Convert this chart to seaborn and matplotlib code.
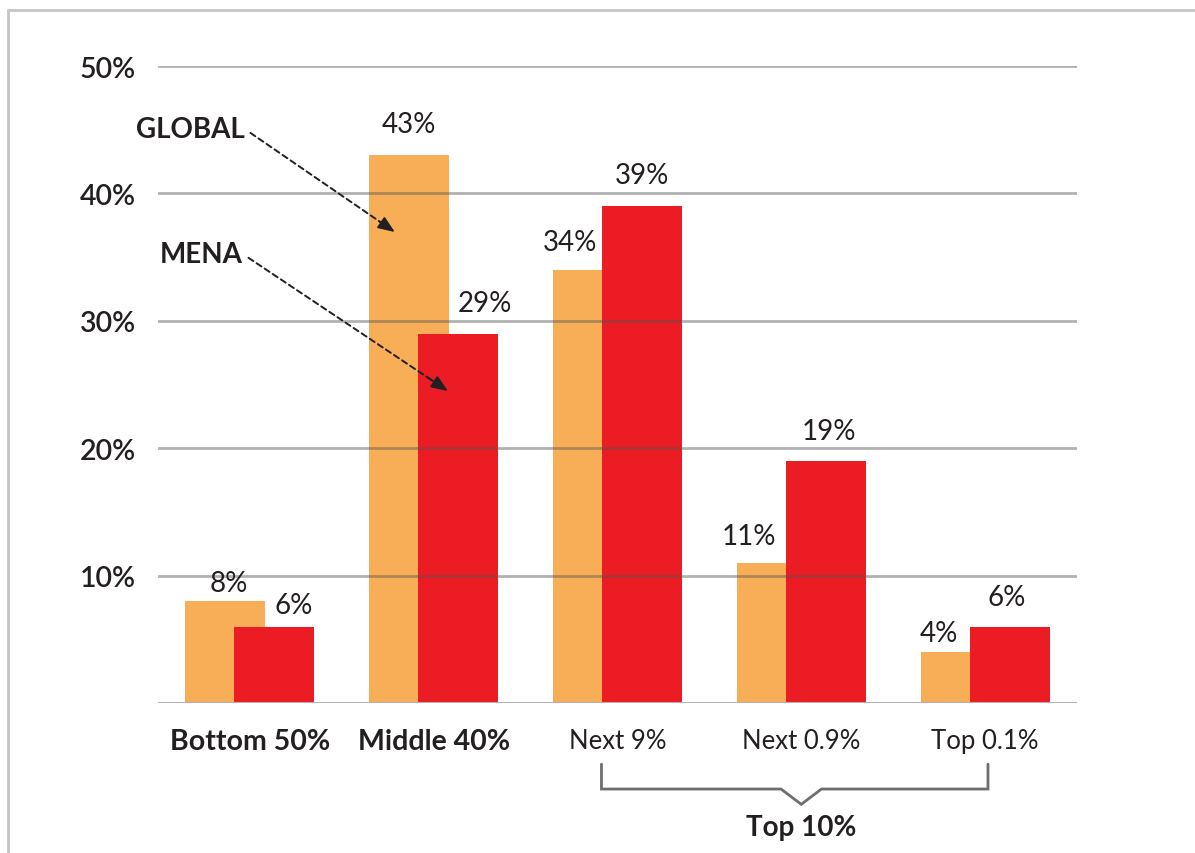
import pandas as pd
import matplotlib.pyplot as plt
import seaborn as sns
from matplotlib.lines import Line2D

# data
groups = ['Bottom 50%', 'Middle 40%', 'Next 9%', 'Next 0.9%', 'Top 0.1%']
global_share = [8, 43, 34, 11, 4]
mena_share = [6, 29, 39, 19, 6]
series = ['GLOBAL', 'MENA']
yticks = [10, 20, 30, 40, 50]
ytick_labels = ['10%', '20%', '30%', '40%', '50%']

df = pd.DataFrame({
    'group': groups * 2,
    'share': global_share + mena_share,
    'series': ['GLOBAL'] * len(groups) + ['MENA'] * len(groups),
})

# label nudges in pixels (dx, gap above bar)
label_dx = [[3, 0, -23, -28, -22], [19, 27, 0, 3, -3]]
label_dy = [[10, 23, 20, 19, 11], [14, 23, 23, 22, 22]]

sns.set_style('white')
plt.rcParams['font.family'] = ['Lato', 'DejaVu Sans']
ink = '#231f20'
grey = '#555555'

fig = plt.figure(figsize=(11.95, 8.54), dpi=100)
ax = fig.add_axes([0.1322, 0.1756, 0.769, 0.7459])

sns.barplot(data=df, x='group', y='share', hue='series', order=groups, hue_order=series,
            palette=['#f7ae57', '#ec1c24'], width=0.533, dodge=True, saturation=1,
            legend=False, linewidth=0, ax=ax, zorder=2)

# overlapping bars: widen each bar around its own centre
bar_w = 0.4355
for cont in ax.containers:
    for p in cont:
        c = p.get_x() + p.get_width() / 2
        p.set_width(bar_w)
        p.set_x(c - bar_w / 2)

# value labels
for i, cont in enumerate(ax.containers):
    for j, p in enumerate(cont):
        h = p.get_height()
        ax.annotate(f'{h:.0f}%', xy=(p.get_x() + p.get_width() / 2, h),
                    xytext=(label_dx[i][j], label_dy[i][j]), textcoords='offset pixels',
                    ha='center', va='baseline', fontsize=20, color=ink, zorder=5)

# grid lines drawn over the bars, semi transparent
for t in yticks:
    ax.axhline(t, color=grey, alpha=0.45, lw=2, zorder=3)
ax.axhline(0, color='#b3b3b3', lw=2.2, zorder=3)

ax.set_xlim(-0.5, 4.5)
ax.set_ylim(0, 50)
ax.set_yticks(yticks, ytick_labels)
ax.set_xticks(range(len(groups)), groups)
ax.set_xlabel('')
ax.set_ylabel('')
ax.tick_params(axis='y', length=0, pad=16, labelsize=20.5, labelcolor=ink)
ax.tick_params(axis='x', length=0, pad=18, labelcolor=ink)
for lbl in ax.get_yticklabels():
    lbl.set_fontweight('semibold')
for k, lbl in enumerate(ax.get_xticklabels()):
    if k < 2:
        lbl.set_fontweight('bold')
        lbl.set_fontsize(20.5)
    else:
        lbl.set_fontsize(18.5)
sns.despine(ax=ax, left=True, bottom=True)

# series call-outs: dashed line from the word, solid head at the bar
callouts = [('GLOBAL', (-0.027, 45.05), (0.789, 36.97)),
            ('MENA', (-0.038, 35.24), (1.078, 24.49))]
for name, txt_xy, tip_xy in callouts:
    ax.annotate(name, xy=tip_xy, xytext=txt_xy, ha='right', va='center',
                fontsize=20, fontweight='bold', color=ink, zorder=6,
                arrowprops=dict(arrowstyle='-', linestyle=(0, (3, 2)), color=ink, lw=1.4,
                                relpos=(1, 0.5), shrinkA=2, shrinkB=6))
    back = (tip_xy[0] - 0.1 * (tip_xy[0] - txt_xy[0]), tip_xy[1] - 0.1 * (tip_xy[1] - txt_xy[1]))
    ax.annotate('', xy=tip_xy, xytext=back, zorder=6,
                arrowprops=dict(arrowstyle='-|>,head_length=1.0,head_width=0.4',
                                color=ink, lw=1.4, shrinkA=0, shrinkB=0))

# "Top 10%" bracket under the last three groups
bx0, bx1, tip = 2 - 0.087, 4 + 0.016, 3.0
y_top, y_mid, y_tip = -4.8, -6.75, -7.95
ax.plot([bx0, bx0, tip - 0.11, tip, tip + 0.11, bx1, bx1],
        [y_top, y_mid, y_mid, y_tip, y_mid, y_mid, y_top],
        color='#6d6e71', lw=2, clip_on=False, solid_joinstyle='miter')
ax.text(tip, -9.75, 'Top 10%', ha='center', va='center', fontsize=20,
        fontweight='bold', color=ink, clip_on=False)

# light frame at top-left of the figure
fig.add_artist(Line2D([8 / 1195, 8 / 1195], [0, 1 - 11 / 854], transform=fig.transFigure,
                      color='#c4c4c4', lw=2))
fig.add_artist(Line2D([8 / 1195, 1], [1 - 11 / 854, 1 - 11 / 854], transform=fig.transFigure,
                      color='#c4c4c4', lw=2))

fig.savefig('out.png', dpi=100)
